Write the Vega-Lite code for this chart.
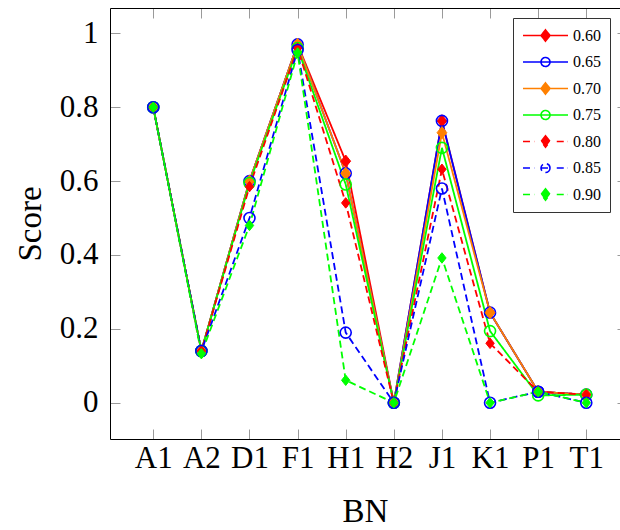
{
  "$schema": "https://vega.github.io/schema/vega-lite/v6.json",
  "width": 510,
  "height": 431,
  "padding": {"left": 14, "top": 7, "right": 0, "bottom": 0},
  "background": "white",
  "config": {"view": {"stroke": null}, "font": "Liberation Serif"},
  "datasets": {
    "scores": [
      {"series": "0.60", "BN": "A1", "score": 0.80}, {"series": "0.60", "BN": "A2", "score": 0.14}, {"series": "0.60", "BN": "D1", "score": 0.60}, {"series": "0.60", "BN": "F1", "score": 0.97}, {"series": "0.60", "BN": "H1", "score": 0.654}, {"series": "0.60", "BN": "H2", "score": 0.0}, {"series": "0.60", "BN": "J1", "score": 0.763}, {"series": "0.60", "BN": "K1", "score": 0.244}, {"series": "0.60", "BN": "P1", "score": 0.03}, {"series": "0.60", "BN": "T1", "score": 0.022},
      {"series": "0.65", "BN": "A1", "score": 0.80}, {"series": "0.65", "BN": "A2", "score": 0.14}, {"series": "0.65", "BN": "D1", "score": 0.60}, {"series": "0.65", "BN": "F1", "score": 0.97}, {"series": "0.65", "BN": "H1", "score": 0.621}, {"series": "0.65", "BN": "H2", "score": 0.0}, {"series": "0.65", "BN": "J1", "score": 0.763}, {"series": "0.65", "BN": "K1", "score": 0.244}, {"series": "0.65", "BN": "P1", "score": 0.03}, {"series": "0.65", "BN": "T1", "score": 0.022},
      {"series": "0.70", "BN": "A1", "score": 0.80}, {"series": "0.70", "BN": "A2", "score": 0.14}, {"series": "0.70", "BN": "D1", "score": 0.60}, {"series": "0.70", "BN": "F1", "score": 0.97}, {"series": "0.70", "BN": "H1", "score": 0.621}, {"series": "0.70", "BN": "H2", "score": 0.0}, {"series": "0.70", "BN": "J1", "score": 0.731}, {"series": "0.70", "BN": "K1", "score": 0.244}, {"series": "0.70", "BN": "P1", "score": 0.03}, {"series": "0.70", "BN": "T1", "score": 0.022},
      {"series": "0.75", "BN": "A1", "score": 0.80}, {"series": "0.75", "BN": "A2", "score": 0.14}, {"series": "0.75", "BN": "D1", "score": 0.595}, {"series": "0.75", "BN": "F1", "score": 0.96}, {"series": "0.75", "BN": "H1", "score": 0.591}, {"series": "0.75", "BN": "H2", "score": 0.0}, {"series": "0.75", "BN": "J1", "score": 0.69}, {"series": "0.75", "BN": "K1", "score": 0.194}, {"series": "0.75", "BN": "P1", "score": 0.02}, {"series": "0.75", "BN": "T1", "score": 0.022},
      {"series": "0.80", "BN": "A1", "score": 0.80}, {"series": "0.80", "BN": "A2", "score": 0.14}, {"series": "0.80", "BN": "D1", "score": 0.585}, {"series": "0.80", "BN": "F1", "score": 0.96}, {"series": "0.80", "BN": "H1", "score": 0.541}, {"series": "0.80", "BN": "H2", "score": 0.0}, {"series": "0.80", "BN": "J1", "score": 0.632}, {"series": "0.80", "BN": "K1", "score": 0.161}, {"series": "0.80", "BN": "P1", "score": 0.03}, {"series": "0.80", "BN": "T1", "score": 0.022},
      {"series": "0.85", "BN": "A1", "score": 0.80}, {"series": "0.85", "BN": "A2", "score": 0.14}, {"series": "0.85", "BN": "D1", "score": 0.50}, {"series": "0.85", "BN": "F1", "score": 0.955}, {"series": "0.85", "BN": "H1", "score": 0.19}, {"series": "0.85", "BN": "H2", "score": 0.0}, {"series": "0.85", "BN": "J1", "score": 0.58}, {"series": "0.85", "BN": "K1", "score": 0.0}, {"series": "0.85", "BN": "P1", "score": 0.03}, {"series": "0.85", "BN": "T1", "score": 0.0},
      {"series": "0.90", "BN": "A1", "score": 0.80}, {"series": "0.90", "BN": "A2", "score": 0.133}, {"series": "0.90", "BN": "D1", "score": 0.48}, {"series": "0.90", "BN": "F1", "score": 0.947}, {"series": "0.90", "BN": "H1", "score": 0.061}, {"series": "0.90", "BN": "H2", "score": 0.0}, {"series": "0.90", "BN": "J1", "score": 0.392}, {"series": "0.90", "BN": "K1", "score": 0.0}, {"series": "0.90", "BN": "P1", "score": 0.03}, {"series": "0.90", "BN": "T1", "score": 0.0}
    ]
  },
  "data": {"name": "scores"},
  "layer": [
    {
      "mark": {"type": "line", "strokeWidth": 1.8},
      "encoding": {
        "x": {
          "field": "BN", "type": "nominal", "sort": null,
          "scale": {"type": "point", "domain": ["A1", "A2", "D1", "F1", "H1", "H2", "J1", "K1", "P1", "T1"], "padding": 0.8, "align": 0.562},
          "axis": {
            "orient": "bottom", "title": "BN", "labelAngle": 0, "labelOverlap": false, "labelBound": false,
            "labelFont": "Liberation Serif", "labelFontSize": 31, "labelColor": "black", "labelPadding": 14,
            "tickSize": -10, "tickColor": "#9a9a9a", "tickWidth": 1,
            "domainColor": "black", "domainWidth": 1,
            "titleFont": "Liberation Serif", "titleFontSize": 33, "titleFontWeight": "normal", "titleColor": "black", "titlePadding": 22,
            "grid": false
          }
        },
        "y": {
          "field": "score", "type": "quantitative",
          "scale": {"domain": [-0.098, 1.0685], "nice": false, "zero": false},
          "axis": {
            "orient": "left", "title": "Score", "values": [0, 0.2, 0.4, 0.6, 0.8, 1], "format": "~g",
            "labelFont": "Liberation Serif", "labelFontSize": 31, "labelColor": "black", "labelPadding": 22,
            "tickSize": -10, "tickColor": "#9a9a9a", "tickWidth": 1,
            "domainColor": "black", "domainWidth": 1,
            "titleFont": "Liberation Serif", "titleFontSize": 33, "titleFontWeight": "normal", "titleColor": "black", "titlePadding": 12,
            "grid": false
          }
        },
        "color": {
          "field": "series", "type": "nominal",
          "scale": {"domain": ["0.60", "0.65", "0.70", "0.75", "0.80", "0.85", "0.90"], "range": ["#ff0000", "#0000ff", "#ff8000", "#00ff00", "#ff0000", "#0000ff", "#00ff00"]},
          "legend": {
            "title": null, "orient": "top-right", "offset": 10,
            "symbolSize": 2025, "symbolStrokeWidth": 1.6, "symbolType": "M-1,0L1,0",
            "clipHeight": 17,
            "labelFont": "Liberation Serif", "labelFontSize": 16, "labelColor": "black", "labelOffset": 4,
            "rowPadding": 9.5, "padding": 9, "strokeColor": "#333333", "fillColor": "white",
            "encode": {
              "symbols": {
                "update": {
                  "shape": {"signal": "(datum.value === '0.60' || datum.value === '0.70') ? 'M-1,0L1,0M0,-0.25L0.2,0L0,0.25L-0.2,0Z' : ((datum.value === '0.65' || datum.value === '0.75') ? 'M-1,0L1,0M0.2,0A0.2,0.2,0,1,1,-0.2,0A0.2,0.2,0,1,1,0.2,0Z' : (datum.value === '0.85' ? 'M-1,0L-0.5,0M-0.2,0L0.2,0M0.5,0L1,0M0.2,0A0.2,0.2,0,1,1,-0.2,0A0.2,0.2,0,1,1,0.2,0Z' : 'M-1,0L-0.5,0M0.5,0L1,0M0,-0.25L0.2,0L0,0.25L-0.2,0Z'))"},
                  "fill": {"signal": "(datum.value === '0.65' || datum.value === '0.75' || datum.value === '0.85') ? 'transparent' : scale('color', datum.value)"},
                  "strokeDash": {"value": [1, 0]}
                }
              }
            }
          }
        },
        "strokeDash": {
          "field": "series", "type": "nominal",
          "scale": {"domain": ["0.60", "0.65", "0.70", "0.75", "0.80", "0.85", "0.90"], "range": [[1, 0], [1, 0], [1, 0], [1, 0], [7, 4], [7, 4], [7, 4]]},
          "legend": null
        }
      }
    },
    {
      "transform": [{"filter": {"field": "series", "equal": "0.60"}}],
      "mark": {"type": "point", "shape": "M0,-1L0.8,0L0,1L-0.8,0Z", "filled": true, "fill": "#ff0000", "stroke": "#ff0000", "strokeWidth": 1, "opacity": 1, "size": 150},
      "encoding": {
        "x": {"field": "BN", "type": "nominal", "sort": null,
          "axis": {"orient": "top", "title": null, "labels": false, "tickSize": -10, "tickColor": "#9a9a9a", "tickWidth": 1, "domainColor": "black", "domainWidth": 1, "grid": false}},
        "y": {"field": "score", "type": "quantitative",
          "axis": {"orient": "right", "title": null, "labels": false, "values": [0, 0.2, 0.4, 0.6, 0.8, 1], "tickSize": -3, "tickColor": "#9a9a9a", "tickWidth": 1, "domain": false, "grid": false}}
      }
    },
    {
      "transform": [{"filter": {"field": "series", "equal": "0.65"}}],
      "mark": {"type": "point", "shape": "M0.9,0A0.9,0.9,0,1,1,-0.9,0A0.9,0.9,0,1,1,0.9,0Z", "filled": false, "fill": "transparent", "stroke": "#0000ff", "strokeWidth": 1.6, "opacity": 1, "size": 150},
      "encoding": {
        "x": {"field": "BN", "type": "nominal", "sort": null, "axis": null},
        "y": {"field": "score", "type": "quantitative", "axis": null}
      }
    },
    {
      "transform": [{"filter": {"field": "series", "equal": "0.70"}}],
      "mark": {"type": "point", "shape": "M0,-1L0.8,0L0,1L-0.8,0Z", "filled": true, "fill": "#ff8000", "stroke": "#ff8000", "strokeWidth": 1, "opacity": 1, "size": 150},
      "encoding": {
        "x": {"field": "BN", "type": "nominal", "sort": null, "axis": null},
        "y": {"field": "score", "type": "quantitative", "axis": null}
      }
    },
    {
      "transform": [{"filter": {"field": "series", "equal": "0.75"}}],
      "mark": {"type": "point", "shape": "M0.9,0A0.9,0.9,0,1,1,-0.9,0A0.9,0.9,0,1,1,0.9,0Z", "filled": false, "fill": "transparent", "stroke": "#00ff00", "strokeWidth": 1.6, "opacity": 1, "size": 150},
      "encoding": {
        "x": {"field": "BN", "type": "nominal", "sort": null, "axis": null},
        "y": {"field": "score", "type": "quantitative", "axis": null}
      }
    },
    {
      "transform": [{"filter": {"field": "series", "equal": "0.80"}}],
      "mark": {"type": "point", "shape": "M0,-1L0.8,0L0,1L-0.8,0Z", "filled": true, "fill": "#ff0000", "stroke": "#ff0000", "strokeWidth": 1, "opacity": 1, "size": 110},
      "encoding": {
        "x": {"field": "BN", "type": "nominal", "sort": null, "axis": null},
        "y": {"field": "score", "type": "quantitative", "axis": null}
      }
    },
    {
      "transform": [{"filter": {"field": "series", "equal": "0.85"}}],
      "mark": {"type": "point", "shape": "M0.9,0A0.9,0.9,0,1,1,-0.9,0A0.9,0.9,0,1,1,0.9,0Z", "filled": false, "fill": "transparent", "stroke": "#0000ff", "strokeWidth": 1.6, "opacity": 1, "size": 150},
      "encoding": {
        "x": {"field": "BN", "type": "nominal", "sort": null, "axis": null},
        "y": {"field": "score", "type": "quantitative", "axis": null}
      }
    },
    {
      "transform": [{"filter": {"field": "series", "equal": "0.90"}}],
      "mark": {"type": "point", "shape": "M0,-1L0.8,0L0,1L-0.8,0Z", "filled": true, "fill": "#00ff00", "stroke": "#00ff00", "strokeWidth": 1, "opacity": 1, "size": 110},
      "encoding": {
        "x": {"field": "BN", "type": "nominal", "sort": null, "axis": null},
        "y": {"field": "score", "type": "quantitative", "axis": null}
      }
    }
  ],
  "resolve": {"axis": {"x": "independent", "y": "independent"}}
}
